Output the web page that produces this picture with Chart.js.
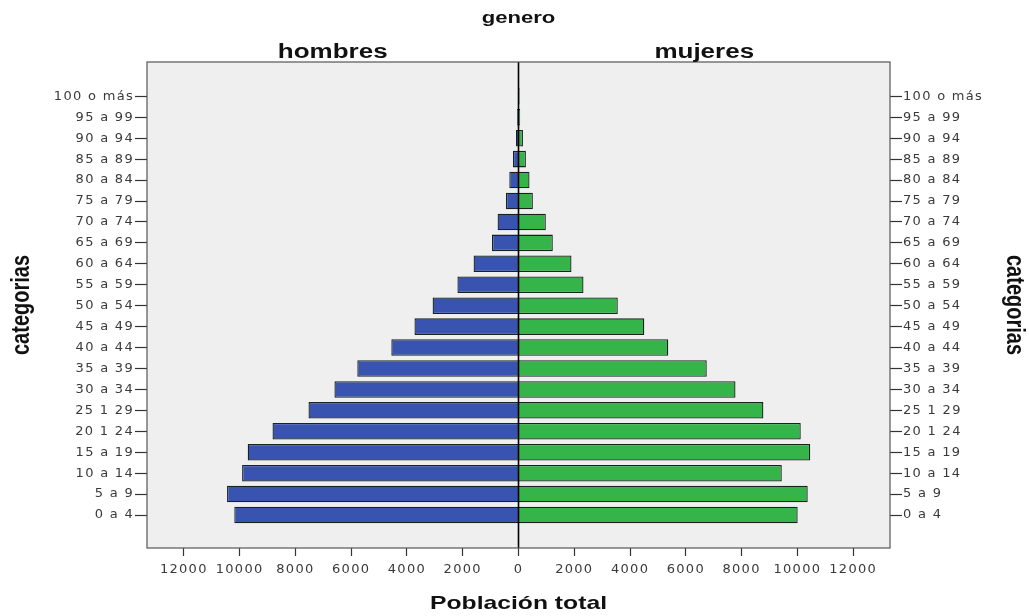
<!DOCTYPE html>
<html>
<head>
<meta charset="utf-8">
<script src="https://cdn.jsdelivr.net/npm/chart.js@4"></script>
<style>
  html, body { margin: 0; padding: 0; background: #ffffff; }
  #wrap { width: 1029px; height: 616px; }
</style>
</head>
<body>
<div id="wrap"><canvas id="c" width="1029" height="616"></canvas></div>
<script>
// ---- data (youngest group first) ----
const categories = ['0 a 4','5 a 9','10 a 14','15 a 19','20 1 24','25 1 29','30 a 34','35 a 39','40 a 44','45 a 49','50 a 54','55 a 59','60 a 64','65 a 69','70 a 74','75 a 79','80 a 84','85 a 89','90 a 94','95 a 99','100 o más'];
const hombres = [10190, 10450, 9910, 9710, 8820, 7530, 6600, 5780, 4560, 3730, 3080, 2190, 1610, 950, 750, 450, 330, 200, 90, 50, 20];
const mujeres = [10010, 10370, 9440, 10460, 10120, 8780, 7780, 6750, 5370, 4510, 3560, 2330, 1900, 1230, 980, 515, 395, 265, 160, 60, 40];
const xTickValues = [-12000, -10000, -8000, -6000, -4000, -2000, 0, 2000, 4000, 6000, 8000, 10000, 12000];
const xTickLabels = ['12000','10000','8000','6000','4000','2000','0','2000','4000','6000','8000','10000','12000'];
const seriesNames = ['hombres', 'mujeres'];
const titleText = 'genero';
const yTitle = 'categorias';
const xTitle = 'Población total';

const STRETCH = 1.3;

function drawStretched(ctx, text, x, y, font, rot, baseline) {
  ctx.save();
  ctx.letterSpacing = '0px';
  ctx.font = font;
  ctx.fillStyle = '#111111';
  ctx.textAlign = 'center';
  ctx.textBaseline = baseline || 'alphabetic';
  ctx.translate(x, y);
  ctx.scale(STRETCH, 1);
  if (rot) ctx.rotate(rot);
  ctx.fillText(text, 0, 0);
  ctx.restore();
}

const deco = {
  id: 'deco',
  beforeDraw(chart) {
    const {ctx, chartArea: a} = chart;
    ctx.save();
    ctx.fillStyle = '#efefef';
    ctx.fillRect(a.left, a.top, a.right - a.left, a.bottom - a.top);
    ctx.restore();
    ctx.letterSpacing = '1.3px';
  },
  afterDatasetsDraw(chart) {
    const {ctx, chartArea: a, scales} = chart;
    const x0 = scales.x.getPixelForValue(0);
    ctx.save();
    ctx.strokeStyle = '#000000';
    ctx.lineWidth = 1.6;
    ctx.beginPath();
    ctx.moveTo(x0, a.top);
    ctx.lineTo(x0, a.bottom);
    ctx.stroke();
    ctx.restore();
  },
  afterDraw(chart) {
    const {ctx, chartArea: a, scales} = chart;
    ctx.save();
    ctx.strokeStyle = '#555555';
    ctx.lineWidth = 1.2;
    ctx.strokeRect(a.left, a.top, a.right - a.left, a.bottom - a.top);
    ctx.restore();
    const x0 = scales.x.getPixelForValue(0);
    const bold = (s) => 'bold ' + s + 'px "Liberation Sans", Arial, sans-serif';
    drawStretched(ctx, titleText, x0, 23, bold(17));
    drawStretched(ctx, seriesNames[0], (a.left + x0) / 2, 58, bold(20));
    drawStretched(ctx, seriesNames[1], (x0 + a.right) / 2, 58, bold(20));
    const cy = (a.top + a.bottom) / 2;
    drawStretched(ctx, yTitle, 22, cy, bold(20), -Math.PI / 2, 'middle');
    drawStretched(ctx, yTitle, 1014, cy, bold(20), Math.PI / 2, 'middle');
    drawStretched(ctx, xTitle, x0, 604, bold(19), 0, 'middle');
  }
};

const tickFont = { family: '"DejaVu Sans", Arial, sans-serif', size: 13 };
const yScaleBase = {
  type: 'linear',
  min: -1.575,
  max: 21.64,
  stacked: true,
  offset: false,
  border: { display: false },
  grid: { offset: false, drawOnChartArea: false, drawTicks: true, tickLength: 12, tickColor: '#333333', tickWidth: 1.2 },
  ticks: {
    autoSkip: false,
    padding: 1,
    color: '#3a3a3a',
    font: tickFont,
    callback: (v) => (categories[v] !== undefined ? categories[v] : '')
  },
  afterBuildTicks: (axis) => { axis.ticks = categories.map((c, i) => ({ value: i })); }
};

new Chart(document.getElementById('c'), {
  type: 'bar',
  data: {
    datasets: [
      {
        label: seriesNames[0],
        data: hombres.map((v, i) => ({ x: -v, y: i })),
        backgroundColor: '#3953b0',
        borderColor: '#18221e',
        borderWidth: 1.3,
        xAxisID: 'x', yAxisID: 'y'
      },
      {
        label: seriesNames[1],
        data: mujeres.map((v, i) => ({ x: v, y: i })),
        backgroundColor: '#35b449',
        borderColor: '#18221e',
        borderWidth: 1.3,
        xAxisID: 'x', yAxisID: 'y'
      }
    ]
  },
  options: {
    indexAxis: 'y',
    responsive: false,
    animation: false,
    devicePixelRatio: 1,
    barPercentage: 0.79,
    categoryPercentage: 1.0,
    layout: { padding: { top: 62, left: 0, right: 0, bottom: 0 } },
    plugins: {
      legend: { display: false },
      title: { display: false },
      tooltip: { enabled: false }
    },
    scales: {
      x: {
        type: 'linear',
        position: 'bottom',
        min: -13320,
        max: 13320,
        stacked: true,
        offset: false,
        border: { display: false },
        grid: { offset: false, drawOnChartArea: false, drawTicks: true, tickLength: 8, tickColor: '#333333', tickWidth: 1.2 },
        ticks: {
          autoSkip: false,
          maxRotation: 0,
          minRotation: 0,
          padding: 6,
          color: '#3a3a3a',
          font: tickFont,
          callback: (v) => { const k = xTickValues.indexOf(v); return k >= 0 ? xTickLabels[k] : ''; }
        },
        afterBuildTicks: (axis) => { axis.ticks = xTickValues.map(v => ({ value: v })); },
        afterFit: (axis) => { axis.height = 68; }
      },
      y: Object.assign({}, yScaleBase, {
        position: 'left',
        afterFit: (axis) => { axis.width = 147; }
      }),
      y2: Object.assign({}, yScaleBase, {
        position: 'right',
        afterFit: (axis) => { axis.width = 139; }
      })
    }
  },
  plugins: [deco]
});
</script>
</body>
</html>
